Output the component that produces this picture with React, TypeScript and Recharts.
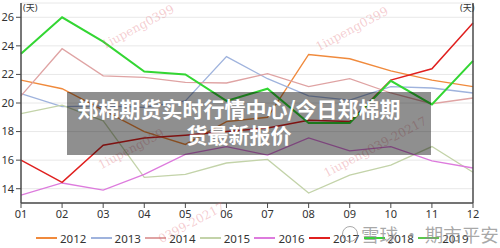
import React from 'react';
import { LineChart, Line, XAxis, YAxis, CartesianGrid, Legend } from 'recharts';

const months = ['01', '02', '03', '04', '05', '06', '07', '08', '09', '10', '11', '12'];
const years = ['2012', '2013', '2014', '2015', '2016', '2017', '2018', '2019'];

const v2012 = [21.6, 21.0, 19.5, 18.0, 17.1, 18.7, 19.0, 23.4, 23.1, 22.25, 21.6, 21.15];
const v2013 = [20.65, 19.75, 19.8, 19.7, 20.15, 23.25, 21.7, 20.5, 20.2, 21.15, 21.05, 20.7];
const v2014 = [20.5, 23.8, 21.9, 21.8, 21.45, 21.4, 22.05, 21.15, 21.7, 20.7, 19.95, 20.35];
const v2015 = [19.25, 19.85, 18.75, 14.8, 15.0, 15.8, 16.05, 13.7, 14.95, 15.65, 16.95, 15.15];
const v2016 = [13.55, 14.4, 13.9, 15.0, 16.4, 16.95, 16.35, 17.55, 16.65, 16.95, 15.95, 15.45];
const v2017 = [16.0, 14.45, 17.05, 17.55, 17.75, 18.0, 18.25, 18.8, 18.7, 21.6, 22.4, 25.6];
const v2018 = [23.45, 26.0, 24.3, 22.2, 22.0, 20.15, 21.0, 18.6, 18.6, 21.55, 19.9, 22.95];
const v2019: number[] = [];

const series = [v2012, v2013, v2014, v2015, v2016, v2017, v2018, v2019];
const colors = ['#f08a3c', '#9fb3dd', '#dfa3a3', '#c3d3a9', '#dd7bdd', '#e0201f', '#33d633', '#5cc84a'];
const widths = [1.4, 1.3, 1.3, 1.3, 1.3, 1.5, 2, 2];

const majorTicks = [14, 16, 18, 20, 22, 24, 26];
const minorTicks = [13.4, 13.8, 14.4, 14.8, 15.2, 15.6, 16.4, 16.8, 17.2, 17.6, 18.4, 18.8, 19.2, 19.6,
  20.4, 20.8, 21.2, 21.6, 22.4, 22.8, 23.2, 23.6, 24.4, 24.8, 25.2, 25.6, 26.4, 26.8];

const data = months.map((m, i) => {
  const row: Record<string, string | number | undefined> = { month: m };
  years.forEach((y, j) => { row['y' + y] = series[j][i]; });
  return row;
});

const axisColor = '#4a4a4a';
const tickStyle = { fill: '#333', fontSize: 11 };

const renderLegend = () => (
  <div style={{ height: 20, display: 'flex', alignItems: 'center', paddingLeft: 36 }}>
    {years.map((y, i) => (
      <div key={y} style={{ width: 54.6, display: 'flex', alignItems: 'center' }}>
        <span style={{ display: 'inline-block', width: 21, height: 2, background: colors[i], marginRight: 3 }} />
        <span style={{ fontSize: 11.5, color: '#333' }}>{y}</span>
      </div>
    ))}
  </div>
);

const wm: React.CSSProperties = {
  position: 'absolute', color: 'rgba(225,110,120,0.35)', fontFamily: '"DejaVu Serif", serif',
  fontSize: 12, transform: 'rotate(-28deg)', whiteSpace: 'nowrap', pointerEvents: 'none',
};

export default function App() {
  return (
    <div style={{ position: 'absolute', left: 0, top: 0, width: 500, height: 248, background: '#fff', overflow: 'hidden',
      fontFamily: '"Noto Sans", "Noto Sans CJK SC", sans-serif' }}>
      <LineChart width={500} height={248} data={data} margin={{ top: 3, right: 0, bottom: 0, left: 0 }}>
        <CartesianGrid vertical={false} stroke="#e8e8e8" yAxisId="left" />
        <XAxis dataKey="month" height={25} tickSize={5} interval={0}
          axisLine={{ stroke: axisColor, strokeWidth: 1.5 }} tickLine={{ stroke: axisColor }} tick={tickStyle} />
        <YAxis yAxisId="left" orientation="left" width={21} domain={[13, 27]} ticks={majorTicks} interval={0}
          tickSize={5} axisLine={{ stroke: axisColor, strokeWidth: 1.5 }} tickLine={{ stroke: axisColor }} tick={tickStyle} />
        <YAxis yAxisId="right" orientation="right" width={27} domain={[13, 27]} ticks={majorTicks} interval={0}
          tickSize={5} axisLine={{ stroke: axisColor, strokeWidth: 1.5 }} tickLine={{ stroke: axisColor }} tick={tickStyle} />
        <YAxis yAxisId="minorL" orientation="left" mirror width={5} domain={[13, 27]} ticks={minorTicks} interval={0}
          tickSize={3} axisLine={false} tickLine={{ stroke: axisColor }} tick={false} />
        <YAxis yAxisId="minorR" orientation="right" mirror width={5} domain={[13, 27]} ticks={minorTicks} interval={0}
          tickSize={3} axisLine={false} tickLine={{ stroke: axisColor }} tick={false} />
        {years.map((y, i) => (
          <Line key={y} yAxisId="left" type="linear" dataKey={'y' + y} name={y} stroke={colors[i]}
            strokeWidth={widths[i]} dot={false} isAnimationActive={false} />
        ))}
        <Legend verticalAlign="bottom" align="left" height={20} content={renderLegend} />
      </LineChart>

      <div style={{ position: 'absolute', left: 23, top: 1, fontSize: 9, color: '#333' }}>(天)</div>
      <div style={{ position: 'absolute', left: 460, top: 1, fontSize: 9, color: '#333' }}>(天)</div>

      <span style={{ ...wm, left: 98, top: 20 }}>1iupeng0399</span>
      <span style={{ ...wm, left: 312, top: 22 }}>1iupeng0399</span>
      <span style={{ ...wm, left: 95, top: 142 }}>1iupeng039</span>
      <span style={{ ...wm, left: 318, top: 140 }}>1iupeng039-20217</span>
      <span style={{ ...wm, left: 155, top: 216 }}>0399-20217</span>

      <div style={{ position: 'absolute', left: 67, top: 92, width: 364, height: 63, background: 'rgba(0,0,0,0.44)' }} />
      <div style={{ position: 'absolute', left: 67, top: 95, width: 344, textAlign: 'center', color: '#fff',
        fontWeight: 700, fontSize: 21, lineHeight: '26px', fontFamily: '"Noto Sans CJK SC", sans-serif' }}>
        郑棉期货实时行情中心/今日郑棉期<br />货最新报价
      </div>

      <div style={{ position: 'absolute', left: 342, top: 224, display: 'flex', alignItems: 'center',
        color: 'rgba(140,140,140,0.75)', fontSize: 18.5, lineHeight: '20px', fontFamily: '"Noto Sans CJK SC", sans-serif' }}>
        <span style={{ display: 'inline-block', width: 14, height: 14, borderRadius: '50%',
          border: '1.5px solid rgba(140,140,140,0.75)', marginRight: 3 }} />
        雪球 · 期市平安
      </div>
    </div>
  );
}
